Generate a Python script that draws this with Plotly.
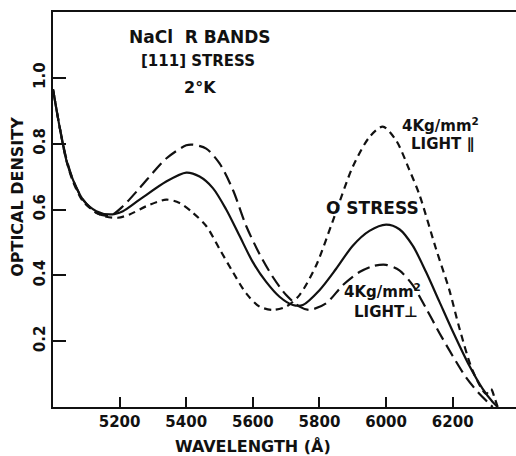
import plotly.graph_objects as go

# Wavelength (Å) and optical density
wl_zero = [5000, 5020, 5040, 5060, 5090, 5130, 5170, 5210, 5260, 5340, 5400, 5440, 5480, 5520, 5560,
           5600, 5640, 5680, 5720, 5750, 5800, 5850, 5900, 5950, 6000, 6040, 6080, 6120, 6160, 6200,
           6250, 6290, 6320, 6335]
od_zero = [0.965, 0.85, 0.75, 0.69, 0.63, 0.595, 0.585, 0.595, 0.63, 0.685, 0.712, 0.70, 0.665, 0.60, 0.52,
           0.44, 0.38, 0.335, 0.31, 0.31, 0.355, 0.42, 0.49, 0.535, 0.554, 0.54, 0.49, 0.41, 0.32, 0.23,
           0.125, 0.055, 0.015, 0.0]

wl_perp = [5000, 5020, 5040, 5060, 5090, 5130, 5170, 5210, 5260, 5340, 5400, 5420, 5460, 5500, 5540,
           5580, 5620, 5660, 5700, 5740, 5770, 5820, 5870, 5920, 5960, 6000, 6040, 6080, 6120, 6160,
           6200, 6240, 6280, 6310, 6320]
od_perp = [0.965, 0.85, 0.755, 0.69, 0.63, 0.59, 0.58, 0.61, 0.665, 0.755, 0.795, 0.797, 0.785, 0.74, 0.66,
           0.55, 0.465, 0.395, 0.34, 0.305, 0.295, 0.315, 0.37, 0.41, 0.428, 0.432, 0.415, 0.37, 0.30, 0.225,
           0.155, 0.09, 0.04, 0.01, 0.0]

wl_par = [5000, 5020, 5040, 5060, 5090, 5130, 5160, 5195, 5230, 5280, 5340, 5380, 5420, 5460, 5500,
          5540, 5580, 5620, 5660, 5700, 5740, 5790, 5840, 5900, 5950, 5990, 6030, 6070, 6100, 6150,
          6190, 6220, 6260, 6300, 6315, 6325, 6335]
od_par = [0.965, 0.85, 0.75, 0.685, 0.625, 0.59, 0.578, 0.575, 0.585, 0.61, 0.63, 0.62, 0.59, 0.55, 0.48,
          0.41, 0.345, 0.305, 0.295, 0.305, 0.34, 0.43, 0.565, 0.73, 0.82, 0.852, 0.81, 0.72, 0.645, 0.48,
          0.355, 0.24, 0.11, 0.04, 0.055, 0.03, 0.0]

x_ticks = [5200, 5400, 5600, 5800, 6000, 6200]
y_ticks = [0.2, 0.4, 0.6, 0.8, 1.0]
y_tick_text = ["0.2", "0.4", "0.6", "0.8", "1.0"]

FONT = "DejaVu Sans"
INK = "#111111"

fig = go.Figure()
fig.add_trace(go.Scatter(x=wl_par, y=od_par, mode="lines", line=dict(color=INK, width=2.2, dash="7px,5px", shape="spline", smoothing=0.8)))
fig.add_trace(go.Scatter(x=wl_perp, y=od_perp, mode="lines", line=dict(color=INK, width=2.2, dash="13px,6px", shape="spline", smoothing=0.8)))
fig.add_trace(go.Scatter(x=wl_zero, y=od_zero, mode="lines", line=dict(color=INK, width=2.2, shape="spline", smoothing=0.8)))

def f(size):
    return dict(family=FONT, size=size, color=INK, weight="bold")

labels = [
    ("NaCl  R BANDS", 5441, 1.124, 17),
    ("[111] STRESS", 5435, 1.051, 15),
    ("2°K", 5441, 0.972, 16),
    ("4Kg/mm<sup>2</sup>", 6162, 0.858, 15),
    ("LIGHT ∥", 6168, 0.798, 15),
    ("O STRESS", 5958, 0.604, 17),
    ("4Kg/mm<sup>2</sup>", 5988, 0.352, 15),
    ("LIGHT⊥", 6000, 0.288, 15),
]
for txt, x, y, s in labels:
    fig.add_annotation(x=x, y=y, text=txt, showarrow=False, font=f(s), xanchor="center", yanchor="middle")

fig.add_annotation(xref="paper", yref="paper", x=0.432, y=-0.101, text="WAVELENGTH (Å)", showarrow=False,
                   font=f(16), xanchor="center", yanchor="middle")
fig.add_annotation(xref="paper", yref="paper", x=-0.0756, y=0.532, text="OPTICAL DENSITY", showarrow=False,
                   font=f(16), textangle=-90, xanchor="center", yanchor="middle")

tick_font = f(15)
fig.update_xaxes(range=[5000, 6390], tickvals=x_ticks, ticks="inside", ticklen=10, tickwidth=1.5, tickcolor=INK,
                 showline=True, linewidth=2, linecolor=INK, mirror=True, showgrid=False, zeroline=False,
                 tickfont=tick_font)
fig.update_yaxes(range=[0, 1.2], tickvals=y_ticks, ticktext=y_tick_text, tickangle=-90, ticks="inside", ticklen=13,
                 tickwidth=1.5, tickcolor=INK, showline=True, linewidth=2, linecolor=INK, mirror=False,
                 showgrid=False, zeroline=False, tickfont=tick_font)
fig.update_layout(width=516, height=456, margin=dict(l=53, r=0, t=12, b=49), showlegend=False,
                  paper_bgcolor="white", plot_bgcolor="white")
fig.write_html("out.html")
